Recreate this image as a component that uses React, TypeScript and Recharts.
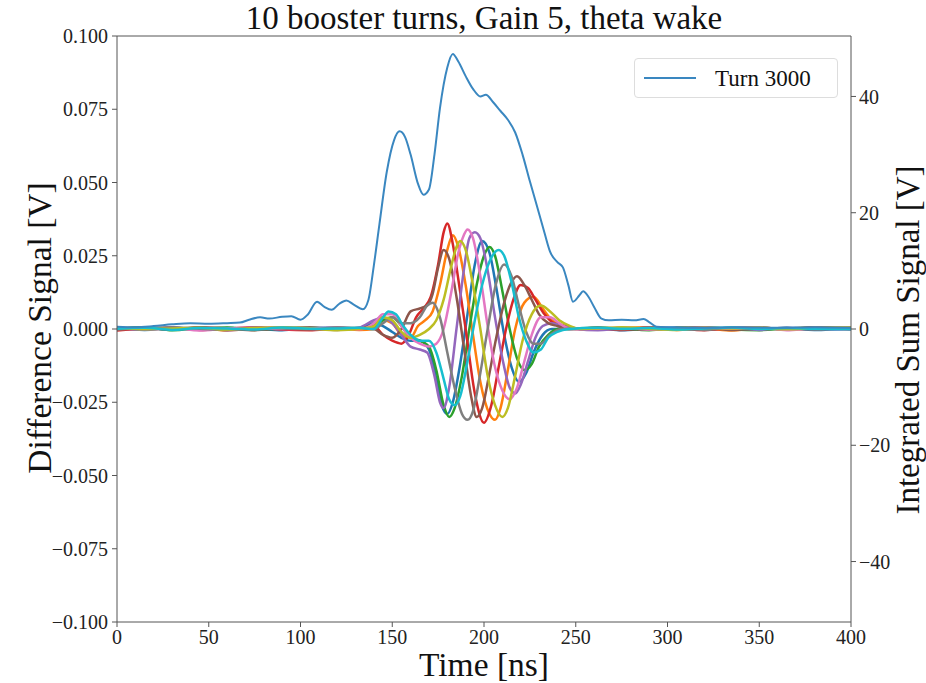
import React from "react";
import {
  LineChart,
  Line,
  XAxis,
  YAxis,
  ReferenceLine,
} from "recharts";

// time axis (ns) and tick labels
const xTicks = [0, 50, 100, 150, 200, 250, 300, 350, 400];
const leftTicks = [-0.1, -0.075, -0.05, -0.025, 0, 0.025, 0.05, 0.075, 0.1];
const rightTicks = [-40, -20, 0, 20, 40];

// baseline sample times, before and after the bunch
const T_PRE = [0, 15, 30, 45, 60, 75, 90, 105, 120, 132];
const T_POST = [262, 275, 290, 305, 320, 335, 350, 365, 380, 400];

// Turn 3000, integrated sum signal [V] (right axis)
const sumTurn3000: [number, number][] = [
  [0, 0.4], [10, 0.3], [20, 0.5], [30, 0.8], [40, 1.0], [50, 0.9], [60, 1.0],
  [67, 1.1], [72, 1.6], [78, 2.0], [83, 1.8], [90, 2.1], [95, 2.2], [100, 1.6],
  [104, 2.5], [109, 4.7], [113, 3.8], [117, 3.3], [121, 4.3], [125, 4.9],
  [129, 4.2], [134, 3.4], [137, 5.0], [140, 11], [143, 18], [147, 27],
  [151, 32.5], [154, 34], [157, 33], [160, 30], [164, 25], [167, 23.1],
  [170, 24], [173, 30], [176, 38], [180, 45], [183, 47.3], [186, 46],
  [190, 43.5], [194, 41.3], [198, 40], [201, 40.3], [205, 39], [209, 37.5],
  [213, 36], [217, 33.8], [221, 30], [225, 25.4], [229, 21], [233, 16.5],
  [236, 13.3], [240, 11.5], [243, 10.6], [246, 7.5], [248.5, 4.7], [252, 5.8],
  [254, 6.5], [257, 5.5], [260, 3.8], [264, 1.8], [268, 1.5], [275, 1.6],
  [282, 1.5], [287, 1.7], [290, 1.2], [294, 0.4], [300, 0.3], [320, 0.2],
  [340, 0.3], [360, 0.2], [380, 0.3], [400, 0.2],
];

// difference signal [V] for the 10 booster turns (left axis)
const blueTurn = {
  pre: [0.0004, -0.0003, 0.0005, -0.0002, 0.0003, 0.0001, -0.0004, 0.0003, 0.0005, 0.0002],
  bunch: [
    [140, 0.002], [145, 0.001], [150, -0.001], [155, -0.003], [160, -0.004], [165, -0.004],
    [170, -0.007], [174, -0.017], [177, -0.026], [180, -0.029], [183, -0.025], [187, -0.012],
    [191, 0.005], [195, 0.022], [199, 0.03], [203, 0.026], [207, 0.013], [211, -0.002],
    [215, -0.013], [219, -0.018], [223, -0.015], [227, -0.008], [232, -0.002], [237, 0], [245, 0],
  ],
  post: [0.0003, -0.0004, 0.0002, 0.0005, -0.0002, 0.0004, -0.0001, 0.0003, -0.0003, 0.0002],
};
const orangeTurn = {
  pre: [-0.0003, 0.0005, -0.0001, 0.0004, -0.0005, 0.0002, 0.0006, -0.0002, 0.0001, -0.0003],
  bunch: [
    [140, 0], [145, 0.003], [150, 0.002], [155, -0.002], [160, -0.003], [164, 0.001],
    [168, 0.003], [172, 0.006], [176, 0.015], [180, 0.027], [183, 0.032], [186, 0.028],
    [190, 0.015], [194, -0.002], [198, -0.018], [203, -0.029], [206, -0.031], [209, -0.027],
    [213, -0.014], [217, 0], [222, 0.009], [227, 0.011], [232, 0.007], [237, 0.003],
    [243, 0.001], [250, 0],
  ],
  post: [-0.0002, 0.0004, 0.0006, -0.0003, 0.0002, -0.0005, 0.0003, 0.0001, 0.0005, -0.0002],
};
const greenTurn = {
  pre: [0.0002, 0.0006, -0.0004, 0.0001, 0.0005, -0.0003, 0.0002, 0.0004, -0.0002, 0.0003],
  bunch: [
    [140, 0.001], [145, 0.003], [150, 0.004], [155, 0.001], [160, -0.003], [165, -0.004],
    [170, -0.006], [174, -0.014], [178, -0.026], [181, -0.03], [184, -0.027], [188, -0.016],
    [192, 0], [196, 0.015], [200, 0.025], [203, 0.028], [206, 0.025], [210, 0.013],
    [214, 0], [218, -0.01], [222, -0.014], [226, -0.012], [230, -0.006], [235, -0.002],
    [240, 0], [247, 0],
  ],
  post: [0.0005, 0.0001, -0.0004, 0.0003, 0.0006, -0.0001, -0.0004, 0.0002, 0.0004, 0],
};
const redTurn = {
  pre: [-0.0005, 0.0002, 0.0004, -0.0003, 0.0001, 0.0006, -0.0002, -0.0004, 0.0003, 0.0001],
  bunch: [
    [140, 0.001], [145, -0.002], [150, -0.004], [155, -0.005], [159, -0.002], [163, 0.004],
    [167, 0.007], [171, 0.011], [175, 0.022], [178, 0.033], [180, 0.036], [183, 0.029],
    [186, 0.017], [190, 0], [195, -0.022], [200, -0.032], [204, -0.026], [208, -0.013],
    [212, 0], [216, 0.01], [220, 0.015], [224, 0.014], [228, 0.01], [233, 0.005],
    [238, 0.002], [245, 0.001], [252, 0],
  ],
  post: [0.0002, -0.0003, 0.0005, 0.0001, -0.0004, 0.0003, 0.0006, -0.0002, 0.0002, 0.0004],
};
const purpleTurn = {
  pre: [0.0003, -0.0002, 0.0001, 0.0005, -0.0004, 0.0002, 0.0004, 0.0001, -0.0003, 0.0005],
  bunch: [
    [140, 0.003], [145, 0.004], [150, 0.002], [155, -0.002], [160, -0.006], [165, -0.007],
    [169, -0.008], [173, -0.016], [176, -0.025], [178, -0.027], [181, -0.02], [185, 0],
    [189, 0.02], [192, 0.031], [195, 0.033], [198, 0.031], [202, 0.02], [206, 0.004],
    [210, -0.01], [214, -0.02], [217, -0.022], [220, -0.019], [224, -0.011], [228, -0.003],
    [232, 0.001], [237, 0.002], [243, 0.001], [250, 0],
  ],
  post: [-0.0004, 0.0002, 0.0003, -0.0001, 0.0005, 0.0002, -0.0003, 0.0004, 0.0001, -0.0002],
};
const brownTurn = {
  pre: [0.0001, 0.0004, -0.0002, 0.0006, 0.0002, -0.0004, 0.0003, 0.0005, 0, 0.0002],
  bunch: [
    [140, 0], [145, -0.002], [150, -0.003], [155, 0], [160, 0.006], [165, 0.007],
    [169, 0.008], [172, 0.012], [175, 0.021], [178, 0.027], [181, 0.024], [185, 0.011],
    [189, -0.006], [193, -0.023], [196, -0.03], [199, -0.027], [203, -0.015], [207, -0.002],
    [211, 0.009], [215, 0.016], [218, 0.018], [222, 0.015], [226, 0.01], [230, 0.005],
    [235, 0.002], [240, 0.001], [246, 0],
  ],
  post: [0.0004, 0.0001, -0.0002, 0.0003, 0.0005, -0.0003, 0.0002, -0.0001, 0.0006, 0.0003],
};
const pinkTurn = {
  pre: [0.0006, 0.0001, 0.0003, -0.0005, 0.0002, 0.0004, 0, 0.0002, 0.0004, -0.0001],
  bunch: [
    [140, 0.002], [145, 0.005], [150, 0.005], [155, 0.001], [160, -0.003], [165, -0.005],
    [170, -0.006], [174, -0.005], [178, 0], [182, 0.012], [186, 0.026], [189, 0.032],
    [191, 0.034], [194, 0.031], [198, 0.018], [202, 0.001], [206, -0.013], [210, -0.021],
    [214, -0.024], [218, -0.02], [222, -0.011], [226, -0.002], [231, 0.004], [236, 0.004],
    [241, 0.002], [247, 0],
  ],
  post: [0.0001, 0.0005, -0.0002, 0.0002, 0.0004, 0.0001, 0.0005, -0.0004, 0.0003, 0.0001],
};
const grayTurn = {
  pre: [-0.0002, 0.0003, 0.0005, 0.0001, -0.0003, 0.0004, 0.0002, -0.0001, 0.0005, 0.0003],
  bunch: [
    [140, 0], [145, 0.002], [150, 0.004], [155, 0.002], [160, 0.002], [165, 0.004],
    [169, 0.008], [172, 0.009], [176, 0.004], [180, -0.008], [184, -0.02], [188, -0.029],
    [191, -0.031], [194, -0.028], [198, -0.015], [202, 0], [206, 0.014], [211, 0.022],
    [215, 0.018], [219, 0.008], [223, -0.001], [227, -0.005], [231, -0.005], [236, -0.002],
    [242, 0],
  ],
  post: [0.0003, -0.0001, 0.0004, 0.0002, -0.0003, 0.0005, 0.0001, 0.0003, -0.0002, 0.0004],
};
const oliveTurn = {
  pre: [0.0005, -0.0001, 0.0002, 0.0004, -0.0002, 0.0003, 0.0005, 0.0002, -0.0004, 0.0001],
  bunch: [
    [140, 0.001], [145, 0.004], [150, 0.003], [155, -0.001], [160, -0.003], [165, -0.002],
    [170, 0], [174, 0.003], [178, 0.01], [182, 0.021], [185, 0.028], [187, 0.03],
    [190, 0.027], [194, 0.015], [198, 0], [202, -0.016], [206, -0.026], [210, -0.03],
    [213, -0.027], [217, -0.016], [221, -0.004], [226, 0.005], [231, 0.008], [236, 0.006],
    [241, 0.003], [247, 0.001], [253, 0],
  ],
  post: [0.0002, 0.0006, 0.0001, -0.0003, 0.0004, 0.0002, 0.0005, -0.0001, 0.0003, 0.0005],
};
const cyanTurn = {
  pre: [0.0001, 0.0004, -0.0003, 0.0003, 0.0002, -0.0002, 0.0005, 0.0001, 0.0002, 0.0004],
  bunch: [
    [140, 0], [145, 0.004], [148, 0.006], [152, 0.005], [156, 0.001], [160, -0.002],
    [165, -0.004], [170, -0.004], [174, -0.008], [178, -0.017], [181, -0.024], [184, -0.026],
    [187, -0.023], [191, -0.011], [195, 0.003], [199, 0.015], [203, 0.023], [208, 0.027],
    [211, 0.025], [215, 0.016], [219, 0.004], [223, -0.004], [227, -0.008], [231, -0.007],
    [235, -0.003], [240, -0.001], [246, 0],
  ],
  post: [0.0004, 0.0001, 0.0003, -0.0002, 0.0002, 0.0005, 0, 0.0003, 0.0001, -0.0001],
};

const turns = [
  { name: "t1", color: "#1f77b4", trace: blueTurn },
  { name: "t2", color: "#ff7f0e", trace: orangeTurn },
  { name: "t3", color: "#2ca02c", trace: greenTurn },
  { name: "t4", color: "#d62728", trace: redTurn },
  { name: "t5", color: "#9467bd", trace: purpleTurn },
  { name: "t6", color: "#8c564b", trace: brownTurn },
  { name: "t7", color: "#e377c2", trace: pinkTurn },
  { name: "t8", color: "#7f7f7f", trace: grayTurn },
  { name: "t9", color: "#bcbd22", trace: oliveTurn },
  { name: "t10", color: "#17becf", trace: cyanTurn },
];

function buildTrace(trace: { pre: number[]; bunch: number[][]; post: number[] }) {
  return [
    ...trace.pre.map((v, i) => ({ t: T_PRE[i], v })),
    ...trace.bunch.map(([t, v]) => ({ t, v })),
    ...trace.post.map((v, i) => ({ t: T_POST[i], v })),
  ];
}

const sumData = sumTurn3000.map(([t, v]) => ({ t, v }));

const FONT = "'Liberation Serif', 'Times New Roman', serif";
const AXIS = "#555";

function leftFormat(v: number) {
  if (Math.abs(v) < 1e-9) return "0.000";
  return (v < 0 ? "\u2212" : "") + Math.abs(v).toFixed(3);
}

function rightFormat(v: number) {
  return v < 0 ? "\u2212" + Math.abs(v) : String(v);
}

const tickStyle = { fill: "#222", fontSize: 20, fontFamily: FONT };

export default function App() {
  return (
    <div
      style={{
        position: "absolute",
        left: 0,
        top: 0,
        width: 926,
        height: 683,
        background: "#fff",
        fontFamily: FONT,
        color: "#111",
        lineHeight: 1,
      }}
    >
      <LineChart
        width={926}
        height={683}
        margin={{ top: 36, right: 35, bottom: 31, left: 57 }}
      >
        <XAxis
          dataKey="t"
          type="number"
          domain={[0, 400]}
          ticks={xTicks}
          allowDuplicatedCategory={false}
          height={30}
          tickSize={5}
          tickMargin={3}
          stroke={AXIS}
          tick={tickStyle}
        />
        <YAxis
          yAxisId="left"
          type="number"
          domain={[-0.1, 0.1]}
          ticks={leftTicks}
          allowDataOverflow
          width={60}
          tickSize={5}
          tickMargin={4}
          stroke={AXIS}
          tick={tickStyle}
          tickFormatter={leftFormat}
        />
        <YAxis
          yAxisId="right"
          orientation="right"
          type="number"
          domain={[-50.4, 50.4]}
          ticks={rightTicks}
          allowDataOverflow
          width={40}
          tickSize={5}
          tickMargin={3}
          stroke={AXIS}
          tick={tickStyle}
          tickFormatter={rightFormat}
        />
        <ReferenceLine yAxisId="left" y={0.1} stroke={AXIS} strokeWidth={1} />
        {turns.map((turn) => (
          <Line
            key={turn.name}
            yAxisId="left"
            data={buildTrace(turn.trace)}
            dataKey="v"
            name={turn.name}
            type="monotone"
            stroke={turn.color}
            strokeWidth={2.5}
            dot={false}
            isAnimationActive={false}
          />
        ))}
        <Line
          yAxisId="right"
          data={sumData}
          dataKey="v"
          name="Turn 3000"
          type="monotone"
          stroke="#3a87c0"
          strokeWidth={2}
          dot={false}
          isAnimationActive={false}
        />
      </LineChart>

      <div
        style={{
          position: "absolute",
          left: 484,
          top: 18,
          transform: "translate(-50%, -50%)",
          fontSize: 33,
          whiteSpace: "nowrap",
        }}
      >
        10 booster turns, Gain 5, theta wake
      </div>
      <div
        style={{
          position: "absolute",
          left: 484,
          top: 665,
          transform: "translate(-50%, -50%)",
          fontSize: 33.5,
          whiteSpace: "nowrap",
        }}
      >
        Time [ns]
      </div>
      <div
        style={{
          position: "absolute",
          left: 40,
          top: 328,
          transform: "translate(-50%, -50%) rotate(-90deg)",
          fontSize: 33.5,
          whiteSpace: "nowrap",
        }}
      >
        Difference Signal [V]
      </div>
      <div
        style={{
          position: "absolute",
          left: 908,
          top: 340,
          transform: "translate(-50%, -50%) rotate(-90deg)",
          fontSize: 33,
          whiteSpace: "nowrap",
        }}
      >
        Integrated Sum Signal [V]
      </div>

      <div
        style={{
          position: "absolute",
          left: 634,
          top: 58,
          width: 204,
          height: 40,
          border: "1px solid #ddd",
          borderRadius: 4,
          background: "rgba(255,255,255,0.85)",
          boxSizing: "border-box",
        }}
      >
        <div
          style={{
            position: "absolute",
            left: 9,
            top: 18,
            width: 52,
            height: 2,
            background: "#3a87c0",
          }}
        />
        <div
          style={{
            position: "absolute",
            left: 80,
            top: 19,
            transform: "translateY(-50%)",
            fontSize: 23,
            whiteSpace: "nowrap",
          }}
        >
          Turn 3000
        </div>
      </div>
    </div>
  );
}
